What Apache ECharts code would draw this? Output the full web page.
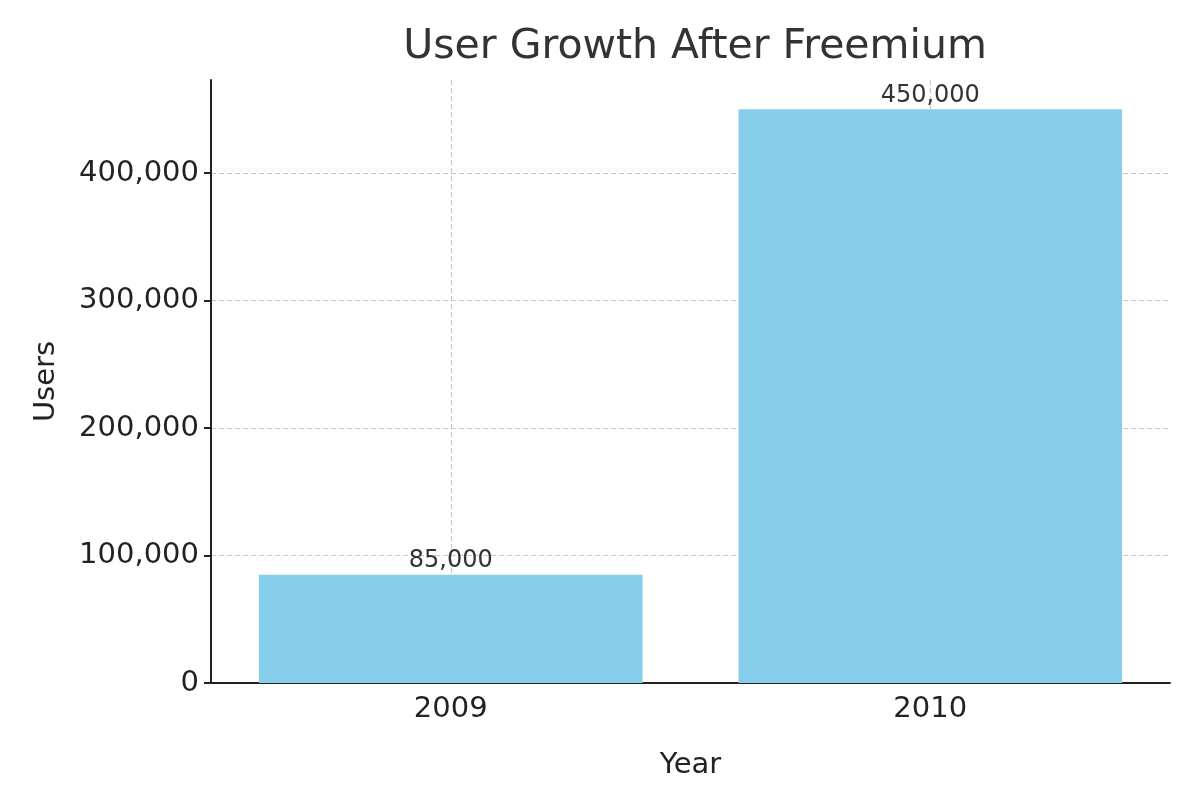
<!DOCTYPE html>
<html>
<head>
<meta charset="utf-8">
<script src="https://cdn.jsdelivr.net/npm/echarts@6/dist/echarts.min.js"></script>
<style>html,body{margin:0;background:#fff}#c{width:1200px;height:800px}</style>
</head>
<body>
<div id="c"></div>
<script>
var years = ['2009', '2010'];
var users = [85000, 450000];

var chart = echarts.init(document.getElementById('c'));
var font = 'DejaVu Sans';
chart.setOption({
    backgroundColor: '#fff',
    textStyle: { fontFamily: font },
    title: {
        text: 'User Growth After Freemium',
        left: 690, top: 22, textAlign: 'center',
        textStyle: { fontSize: 41, fontWeight: 'normal', color: '#333', fontFamily: font }
    },
    grid: { left: 211, right: 30, top: 80, bottom: 117, containLabel: false },
    xAxis: [{
        type: 'category',
        data: years,
        name: 'Year', nameLocation: 'middle', nameGap: 68,
        nameTextStyle: { fontSize: 29, color: '#222' },
        axisLine: { lineStyle: { color: '#222', width: 2 } },
        axisTick: { alignWithLabel: true, length: 7, lineStyle: { color: '#222', width: 2 } },
        axisLabel: { fontSize: 29, color: '#222', margin: 12 },
        splitLine: { show: false }
    }, {
        type: 'category',
        boundaryGap: false,
        data: ['', '', '', '', ''],
        show: true,
        axisLine: { show: false }, axisTick: { show: false }, axisLabel: { show: false },
        splitLine: {
            show: true,
            interval: function (i) { return i === 1 || i === 3; },
            lineStyle: { color: '#c8c8c8', type: [5, 3], width: 1.2 }
        }
    }],
    yAxis: {
        type: 'value',
        min: 0, max: 473000, interval: 100000,
        name: 'Users', nameLocation: 'middle', nameGap: 150,
        nameTextStyle: { fontSize: 29, color: '#222' },
        axisLine: { show: true, lineStyle: { color: '#222', width: 2 } },
        axisTick: { show: true, length: 7, lineStyle: { color: '#222', width: 2 } },
        axisLabel: { fontSize: 29, color: '#222', margin: 12, showMaxLabel: false },
        splitLine: { show: true, showMaxLine: false, lineStyle: { color: '#c8c8c8', type: [5, 3], width: 1.2 } }
    },
    series: [{
        type: 'bar',
        data: users,
        barWidth: '80%',
        itemStyle: { color: '#87ceeb' },
        z: 1,
        label: {
            show: true, position: 'top', distance: 2,
            fontSize: 24, color: '#333', fontFamily: font,
            formatter: function (p) { return p.value.toLocaleString('en-US'); }
        }
    }]
});
</script>
</body>
</html>
